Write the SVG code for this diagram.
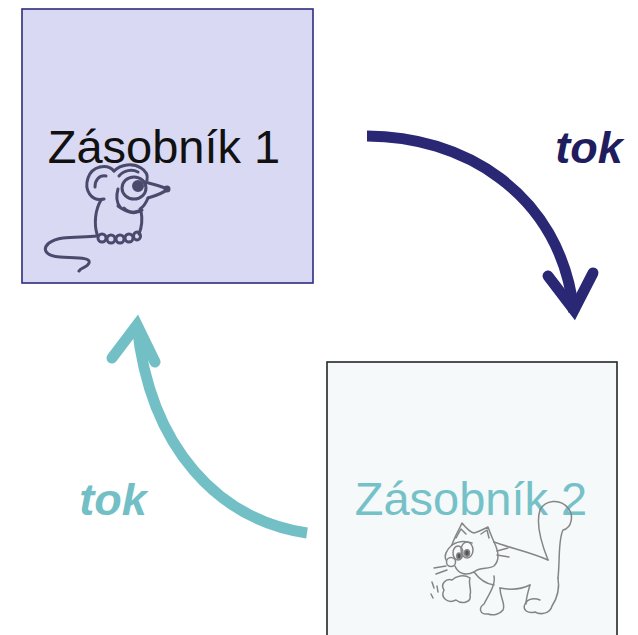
<svg xmlns="http://www.w3.org/2000/svg" width="638" height="635" viewBox="0 0 638 635">
<style>
.lbl{font-family:"Liberation Sans",Arial,sans-serif;text-anchor:middle}
.tok{font-family:"Liberation Sans",Arial,sans-serif;font-weight:bold;font-style:italic;font-size:45px}
.mouse{fill:none;stroke:#4a4a6c;stroke-width:3;stroke-linecap:round;stroke-linejoin:round}
.cat{fill:none;stroke:#858585;stroke-width:1.5;stroke-linecap:round;stroke-linejoin:round}
.arr{fill:none;stroke-width:11}
</style>
<rect width="638" height="635" fill="#ffffff"/>
<g id="zasobnik1">
  <rect x="22" y="9" width="291" height="274" fill="#d9d9f3" stroke="#2e2c7c" stroke-width="1.6"/>
  <text class="lbl" x="164" y="163" font-size="47" fill="#111111">Zásobník 1</text>
  <g id="mouse" class="mouse">
    <path d="M104,199 C91,202 84,190 88,178 C92,166 107,163 114,171"/>
    <path d="M95,187 C95,180 99,175 106,176"/>
    <path d="M114,171 C121,164 133,163 141,168 C146,171 148,175 147,180"/>
    <path d="M119,176 C124,170 132,169 138,172"/>
    <ellipse cx="134" cy="188" rx="12" ry="11"/>
    <circle cx="138" cy="186" r="4.5" fill="#4a4a6c"/>
    <path d="M145,182 C153,184 160,186 168,189 C162,194 155,196 148,198"/>
    <circle cx="167" cy="189" r="2" fill="#4a4a6c"/>
    <path d="M118,189 C116,196 117,203 120,207"/>
    <path d="M118,206 C126,212 135,215 142,210"/>
    <path d="M124,208 C128,212 134,213 139,211"/>
    <path d="M148,198 C146,203 143,207 140,209"/>
    <path d="M101,200 C95,210 94,224 97,234"/>
    <path d="M141,211 C143,221 141,229 139,234"/>
    <ellipse cx="102" cy="238" rx="4" ry="4"/>
    <ellipse cx="111" cy="239" rx="4" ry="4"/>
    <ellipse cx="120" cy="239" rx="4" ry="4"/>
    <ellipse cx="129" cy="238" rx="4" ry="4"/>
    <ellipse cx="137" cy="236" rx="3.5" ry="4"/>
    <path d="M97,236 C80,238 60,235 49,243 C42,249 45,256 60,257 C76,258 91,257 89,263 C87,268 81,267 79,271"/>
  </g>
</g>
<g id="zasobnik2">
  <rect x="327" y="362" width="290" height="280" fill="#f5f9fa" stroke="#262626" stroke-width="1.6"/>
  <text class="lbl" x="471" y="515" font-size="47" fill="#74c1c8">Zásobník 2</text>
  <g id="cat" class="cat">
    <path d="M452,545 C454,538 458,532 462,523 C466,528 470,532 474,533 C478,532 482,530 488,527 C490,533 492,537 494,542"/>
    <path d="M456,538 L461,529 L466,534"/>
    <path d="M481,534 L487,530 L489,538"/>
    <path d="M452,545 C446,550 444,556 446,560"/>
    <circle cx="451" cy="562" r="4.5"/>
    <path d="M455,566 C458,574 466,576 474,572 C480,566 488,570 494,566 C500,560 498,550 494,542"/>
    <path d="M452,545 C458,541 466,541 472,543"/>
    <ellipse cx="458" cy="553" rx="5" ry="7"/>
    <ellipse cx="467" cy="550" rx="6" ry="8"/>
    <ellipse cx="459" cy="556" rx="2.2" ry="3" fill="#555"/>
    <ellipse cx="467" cy="553" rx="2.5" ry="3.2" fill="#555"/>
    <path d="M446,566 L434,568 M447,570 L436,574"/>
    <path d="M497,551 L508,548 M497,555 L509,557"/>
    <path d="M494,542 C510,548 530,552 548,560"/>
    <path d="M548,560 C542,545 535,525 540,510 C545,500 560,498 568,508 C574,515 572,528 563,530 C558,540 560,560 558,578"/>
    <path d="M558,578 C560,590 556,600 552,606 C550,614 540,615 535,612 C528,614 522,610 525,604 C528,598 535,598 540,600"/>
    <path d="M530,585 C528,592 526,598 526,604"/>
    <path d="M500,588 C510,590 520,590 530,585"/>
    <path d="M494,576 C496,585 488,596 484,604 C478,608 480,615 488,614 C494,616 500,614 503,610 C506,604 500,598 500,588"/>
    <path d="M474,572 C480,580 486,584 494,585"/>
    <path d="M470,578 C468,584 472,590 470,595 C472,602 462,605 456,600 C448,604 440,598 444,590 C440,584 446,578 452,580 C456,576 464,574 470,578"/>
    <path d="M432,582 L434,588 M431,594 L433,598 M437,586 L438,592"/>
  </g>
</g>
<g id="connectors">
  <g id="flow1" stroke="#2a2874">
    <path class="arr" d="M367,136 C460,136 560,190 574,312"/>
    <polyline class="arr" points="548,276 574,310 593,273" stroke-linecap="round" stroke-linejoin="miter" stroke-miterlimit="10"/>
  </g>
  <g id="flow2" stroke="#72c0c6">
    <path class="arr" d="M307,533 C220,520 150,450 137,325"/>
    <polyline class="arr" points="112,358 137,325 155,362" stroke-linecap="round" stroke-linejoin="miter" stroke-miterlimit="10"/>
  </g>
  <text class="tok" x="589" y="163" text-anchor="middle" fill="#1f1d5e">tok</text>
  <text class="tok" x="113" y="515" text-anchor="middle" fill="#72c0c6">tok</text>
</g>
</svg>
